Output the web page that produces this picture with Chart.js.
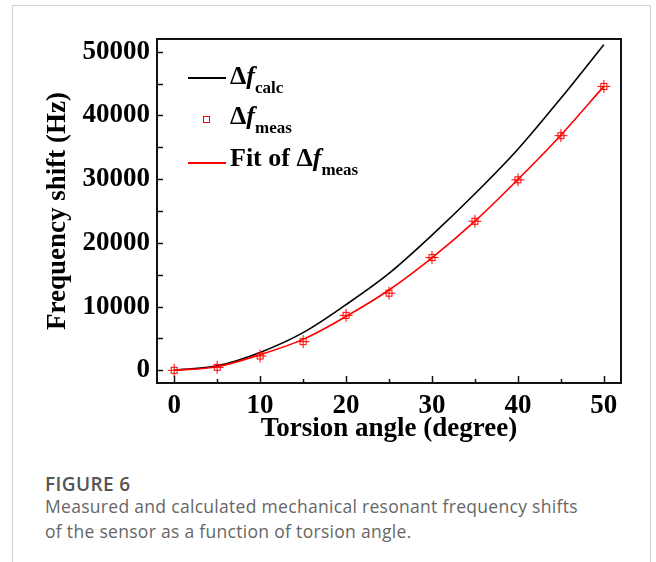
<!DOCTYPE html>
<html lang="en">
<head>
<meta charset="UTF-8">
<title>Figure 6</title>
<style>
  body { margin: 0; background: #fff; }
  #page { position: relative; width: 656px; height: 562px; overflow: hidden; }
  #card { position: absolute; left: 12px; top: 5px; width: 637px; height: 620px; border: 1px solid #d0d0d0; }
  #wrap { position: absolute; left: 0; top: 0; width: 656px; height: 450px; }
  .leg { position: absolute; font-family: "Liberation Serif", "Times New Roman", serif; font-weight: bold;
         font-size: 26px; line-height: 26px; white-space: nowrap; color: #000; }
  .leg i { font-style: italic; }
  .leg sub { font-size: 17px; vertical-align: -9px; line-height: 0; }
  .swatch { position: absolute; height: 2px; width: 38px; }
  .sq { position: absolute; width: 5px; height: 5px; border: 1px solid #ff0000; }
  #cap { position: absolute; left: 45px; top: 473px; font-family: "Open Sans", sans-serif; color: #666; }
  #cap .fig { font-size: 19px; letter-spacing: 0.4px; font-weight: 600; color: #555; line-height: 22px; }
  #cap .txt { font-size: 17.5px; letter-spacing: 0.3px; line-height: 25px; margin-top: -1px; }
</style>
</head>
<body>
<div id="page">
  <div id="card"></div>
  <div id="wrap"><canvas id="myChart"></canvas></div>

  <div class="swatch" style="left:188px; top:77px; background:#000;"></div>
  <div class="leg" style="left:230px; top:63px;">Δ<i>f</i><sub>calc</sub></div>
  <div class="sq" style="left:203px; top:116px;"></div>
  <div class="leg" style="left:230px; top:103px;">Δ<i>f</i><sub>meas</sub></div>
  <div class="swatch" style="left:188px; top:162px; background:#ff0000;"></div>
  <div class="leg" style="left:230px; top:145px;">Fit of Δ<i>f</i><sub>meas</sub></div>

  <div id="cap">
    <div class="fig">FIGURE 6</div>
    <div class="txt">Measured and calculated mechanical resonant frequency shifts<br>of the sensor as a function of torsion angle.</div>
  </div>
</div>

<script src="https://cdn.jsdelivr.net/npm/chart.js"></script>
<script>
  // values
  const angles = [0, 5, 10, 15, 20, 25, 30, 35, 40, 45, 50];
  const calcShift = [0, 700, 2800, 5900, 10300, 15200, 21200, 27700, 34700, 42700, 51100];
  const measShift = [0, 470, 2240, 4500, 8620, 12100, 17700, 23400, 29900, 36830, 44560];
  const fitShift = [0, 560, 2450, 4850, 8450, 12600, 17650, 23400, 29950, 36900, 44560];

  const xTicks = [0, 10, 20, 30, 40, 50];
  const xMinor = [5, 15, 25, 35, 45];
  const yTicks = [0, 10000, 20000, 30000, 40000, 50000];
  const yMinor = [5000, 15000, 25000, 35000, 45000];

  const pts = arr => angles.map((a, i) => ({ x: a, y: arr[i] }));
  const serif = "'Liberation Serif', 'Times New Roman', serif";

  function makeMarker() {
    const c = document.createElement('canvas');
    c.width = 15; c.height = 15;
    const g = c.getContext('2d');
    g.strokeStyle = '#ff0000';
    g.lineWidth = 1;
    g.strokeRect(4.5, 4.5, 6, 6);
    g.beginPath();
    g.moveTo(1, 7.5); g.lineTo(14, 7.5);
    g.moveTo(7.5, 1); g.lineTo(7.5, 14);
    g.stroke();
    return c;
  }

  // box around the plot and inward ticks
  const framePlugin = {
    id: 'frame',
    afterDraw(chart) {
      const { ctx, chartArea: a, scales } = chart;
      ctx.save();
      ctx.strokeStyle = '#111';
      ctx.lineWidth = 1.5;
      ctx.beginPath();
      yTicks.concat(yMinor).forEach(v => {
        const y = Math.round(scales.y.getPixelForValue(v)) + 0.5;
        ctx.moveTo(a.left, y); ctx.lineTo(a.left + 6, y);
      });
      xTicks.forEach(v => {
        const x = Math.round(scales.x.getPixelForValue(v)) + 0.5;
        ctx.moveTo(x, a.bottom); ctx.lineTo(x, a.bottom - 7);
      });
      xMinor.forEach(v => {
        const x = Math.round(scales.x.getPixelForValue(v)) + 0.5;
        ctx.moveTo(x, a.bottom); ctx.lineTo(x, a.bottom - 4);
      });
      ctx.stroke();
      ctx.lineWidth = 2;
      ctx.strokeRect(a.left, a.top, a.right - a.left, a.bottom - a.top);
      ctx.restore();
    }
  };

  const ctx = document.getElementById('myChart');
  new Chart(ctx, {
    type: 'line',
    data: {
      datasets: [
        {
          label: 'Δf meas',
          data: pts(measShift),
          showLine: false,
          pointStyle: makeMarker(),
          order: 0
        },
        {
          label: 'Fit of Δf meas',
          data: pts(fitShift),
          borderColor: '#ff0000',
          borderWidth: 1.6,
          pointRadius: 0,
          cubicInterpolationMode: 'monotone',
          order: 1
        },
        {
          label: 'Δf calc',
          data: pts(calcShift),
          borderColor: '#000',
          borderWidth: 1.6,
          pointRadius: 0,
          cubicInterpolationMode: 'monotone',
          order: 2
        }
      ]
    },
    options: {
      responsive: true,
      maintainAspectRatio: false,
      animation: false,
      layout: { padding: { left: 0, top: 39, right: 35, bottom: 0 } },
      plugins: { legend: { display: false }, tooltip: { enabled: false } },
      scales: {
        x: {
          type: 'linear',
          min: -2,
          max: 52,
          afterBuildTicks: s => { s.ticks = xTicks.map(v => ({ value: v })); },
          afterFit: s => { s.height = 67; },
          grid: { display: false, drawTicks: false },
          border: { display: false },
          ticks: { color: '#000', padding: 7, maxRotation: 0, callback: v => String(v),
                   font: { family: serif, size: 27, weight: 'bold' } },
          title: { display: true, text: 'Torsion angle (degree)', color: '#000', padding: { bottom: 5 },
                   font: { family: serif, size: 27, weight: 'bold' } }
        },
        y: {
          min: -2000,
          max: 52000,
          afterBuildTicks: s => { s.ticks = yTicks.map(v => ({ value: v })); },
          afterFit: s => { s.width = 157; },
          grid: { display: false, drawTicks: false },
          border: { display: false },
          ticks: { color: '#000', padding: 7, callback: v => String(v),
                   font: { family: serif, size: 27, weight: 'bold' } },
          title: { display: true, text: 'Frequency shift (Hz)', color: '#000', padding: { top: 42 },
                   font: { family: serif, size: 27, weight: 'bold' } }
        }
      }
    },
    plugins: [framePlugin]
  });
</script>
</body>
</html>
